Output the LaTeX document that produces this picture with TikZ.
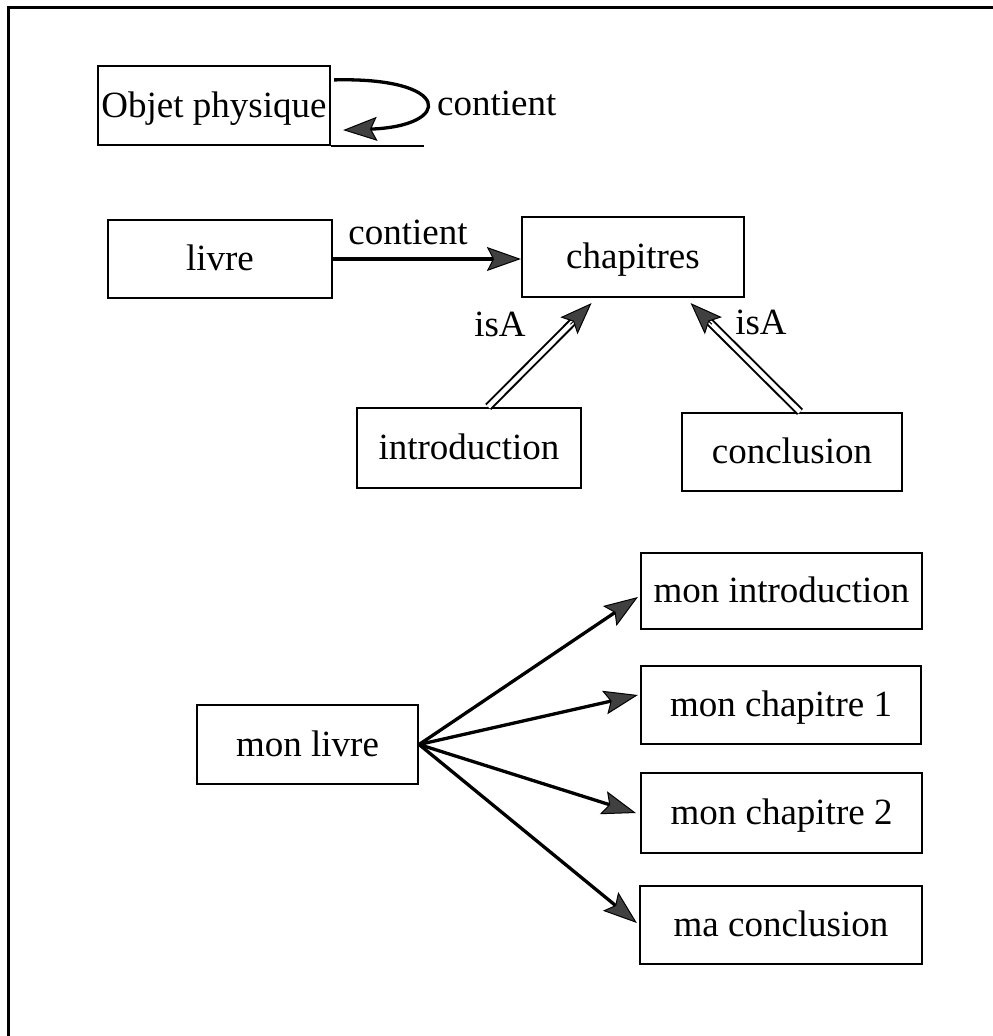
\documentclass[tikz,border=0pt]{standalone}
\usepackage{fontspec}
\setmainfont{Liberation Serif}
\usetikzlibrary{arrows.meta,calc}
\begin{document}
\begin{tikzpicture}[x=1pt,y=-1pt,
 box/.style={draw, line width=2.2pt, inner sep=0pt, text height=28pt, text depth=5pt, font=\fontsize{37}{44}\selectfont},
 lbl/.style={inner sep=0pt, font=\fontsize{37}{44}\selectfont},
 tipA/.style={-{Stealth[length=34pt,width=24pt,inset=6pt,fill=black!75,line width=1pt]}},
 conn/.style={line width=3.3pt, tipA},
 isa/.style={double, double distance=4.5pt, line width=2pt, shorten >=22pt},
 isatip/.style={line width=1pt, -{Stealth[length=32pt,width=24pt,inset=6pt,fill=black!75,line width=1pt]}}
]
\useasboundingbox (0,0) rectangle (993,1036);
\draw[line width=3pt] (993,7.5) -- (8,7.5) -- (8,1036);

% top: self relation
\node[box, minimum width=232, minimum height=79] (obj) at (214,105.5) {Objet physique};
\draw[line width=2.2pt] (obj.south east) -- ++(93,0) coordinate (objline);
\draw[conn] ($(obj.north east)+(3,15)$) .. controls ($(obj.north east)+(122,12)$) and ($(obj.south east)+(122,-20)$) .. ($(obj.south east)+(12,-16)$);
\node[lbl, anchor=base west] (c1) at (437,115) {contient};

% middle
\node[box, minimum width=224, minimum height=78] (livre) at (220,259) {livre};
\node[box, minimum width=222, minimum height=80] (chap) at (633,257) {chapitres};
\node[box, minimum width=224, minimum height=80] (intro) at (469,448) {introduction};
\node[box, minimum width=220, minimum height=78] (concl) at (792,452) {conclusion};

\draw[line width=4.5pt, tipA] (livre.east) -- (livre.east -| chap.west);
\node[lbl, anchor=base] (c2) at (408,244) {contient};

\coordinate (s1) at ($(intro.north west)!0.585!(intro.north east)$);
\coordinate (t1) at ($(chap.south west)!0.315!(chap.south east)+(0,5)$);
\draw[isa] (s1) -- (t1);
\draw[isatip] ($(t1)!30pt!(s1)$) -- (t1);
\node[lbl, anchor=base] (i1) at (500,336) {isA};

\coordinate (s2) at ($(concl.north west)!0.536!(concl.north east)$);
\coordinate (t2) at ($(chap.south west)!0.757!(chap.south east)+(0,5)$);
\draw[isa] (s2) -- (t2);
\draw[isatip] ($(t2)!30pt!(s2)$) -- (t2);
\node[lbl, anchor=base] (i2) at (761,334) {isA};

% bottom
\node[box, minimum width=221, minimum height=79] (ml) at (307.5,744.5) {mon livre};
\node[box, minimum width=281, minimum height=76] (mi) at (781.5,591) {mon introduction};
\node[box, minimum width=280, minimum height=78] (mc1) at (781,705) {mon chapitre 1};
\node[box, minimum width=281, minimum height=80] (mc2) at (781.5,813) {mon chapitre 2};
\node[box, minimum width=282, minimum height=78] (mcl) at (781,925) {ma conclusion};

\draw[conn] (ml.east) -- ($(mi.west)+(-2,6)$);
\draw[conn] (ml.east) -- ($(mc1.west)+(-2,-10)$);
\draw[conn] (ml.east) -- ($(mc2.west)+(-4,0)$);
\draw[conn] (ml.east) -- ($(mcl.west)+(-2,-2)$);
\end{tikzpicture}
\end{document}
